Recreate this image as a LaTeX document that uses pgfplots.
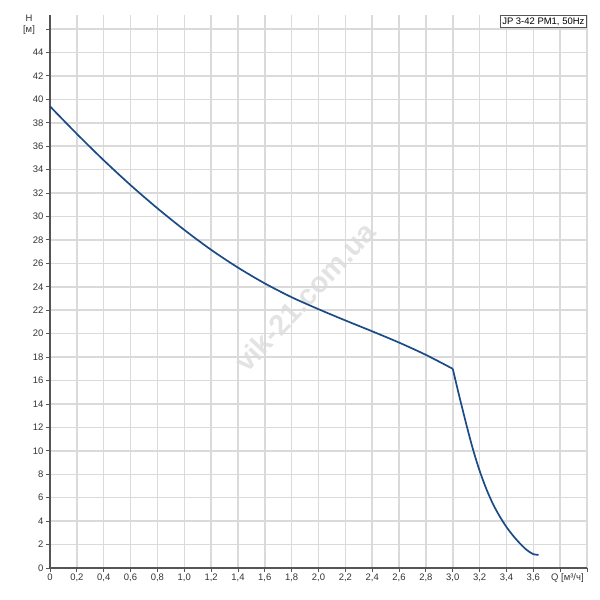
\documentclass[border=0pt]{standalone}
\usepackage{fontspec}
\setmainfont{Liberation Sans}
\usepackage{pgfplots}
\pgfplotsset{compat=1.18}
\definecolor{curve}{HTML}{1B4B86}
\definecolor{gridc}{HTML}{DADADA}
\definecolor{axc}{HTML}{555555}
\definecolor{txt}{HTML}{333333}
\begin{document}
\begin{tikzpicture}[x=1bp,y=1bp]
\useasboundingbox (0,0) rectangle (600,600);
\node[rotate=47, text=black!11, font=\fontsize{29}{29}\selectfont\bfseries] at (305,303) {vik-21.com.ua};
\begin{axis}[
  at={(50bp,32bp)}, anchor=south west, scale only axis,
  width=537bp, height=553bp,
  xmin=0, xmax=4, ymin=0, ymax=47.2,
  axis x line*=bottom, axis y line*=left,
  axis line style={axc, line width=1.4bp, -},
  xtick={0,0.2,0.4,0.6,0.8,1.0,1.2,1.4,1.6,1.8,2.0,2.2,2.4,2.6,2.8,3.0,3.2,3.4,3.6,3.8,4.0},
  xticklabels={0,{0,2},{0,4},{0,6},{0,8},{1,0},{1,2},{1,4},{1,6},{1,8},{2,0},{2,2},{2,4},{2,6},{2,8},{3,0},{3,2},{3,4},{3,6},{},{}},
  ytick={0,2,4,6,8,10,12,14,16,18,20,22,24,26,28,30,32,34,36,38,40,42,44,46},
  yticklabels={0,2,4,6,8,10,12,14,16,18,20,22,24,26,28,30,32,34,36,38,40,42,44,{}},
  grid=major, major grid style={gridc, line width=1.5bp},
  tick align=outside, major tick length=4bp,
  tick style={axc, line width=0.9bp},
  ticklabel style={font=\fontsize{9.5}{10}\selectfont, text=txt},
  xticklabel style={yshift=1.5bp},
  yticklabel style={xshift=1bp},
  clip=false,
]
\addplot[curve, line width=1.7bp, smooth] coordinates {
(0,39.4) (0.2,37.05) (0.4,34.8) (0.6,32.68) (0.8,30.7) (1.0,28.86) (1.2,27.16)
(1.4,25.64) (1.6,24.29) (1.8,23.11) (2.0,22.09) (2.2,21.13) (2.4,20.2) (2.6,19.24)
(2.8,18.19) (3.0,17.0)};
\addplot[curve, line width=1.7bp, smooth] coordinates {
(3.0,17.0) (3.05,14.6) (3.1,12.3) (3.15,10.15) (3.2,8.3) (3.25,6.75) (3.3,5.45)
(3.35,4.4) (3.4,3.5) (3.45,2.75) (3.5,2.1) (3.55,1.55) (3.6,1.18) (3.64,1.12)};
\node[draw=axc, fill=white, anchor=north east, inner sep=2.2bp, line width=0.9bp,
  font=\fontsize{9.5}{10}\selectfont, text=black] at (rel axis cs:1,1) {JP 3-42 PM1, 50Hz};
\end{axis}
\node[font=\fontsize{9.5}{10}\selectfont, text=txt] at (29,582) {H};
\node[font=\fontsize{9.5}{10}\selectfont, text=txt] at (29,570) {[м]};
\node[font=\fontsize{9.5}{10}\selectfont, text=txt, anchor=west, inner sep=0pt] at (551,21.5) {Q [м³/ч]};
\end{tikzpicture}
\end{document}
